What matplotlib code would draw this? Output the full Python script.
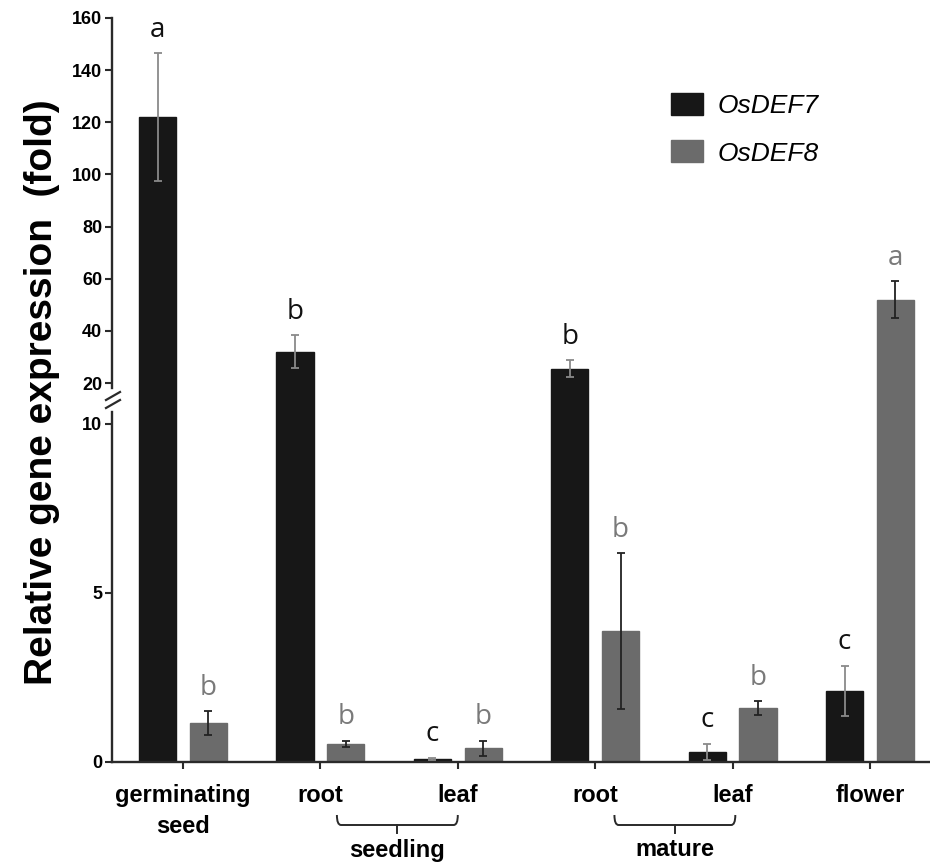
import numpy as np
import matplotlib
matplotlib.use('Agg')
import matplotlib.pyplot as plt
from matplotlib.path import Path
from matplotlib.patches import PathPatch
import matplotlib.transforms as mtransforms

plt.rcParams['font.family'] = 'Liberation Sans'

# data
groups = ['germinating\nseed', 'root', 'leaf', 'root', 'leaf', 'flower']
def7 = [122, 32, 0.1, 25.5, 0.3, 2.1]
def7_err = [24.5, 6.3, 0.03, 3.2, 0.23, 0.75]
def8 = [1.15, 0.53, 0.41, 3.88, 1.6, 52]
def8_err = [0.35, 0.1, 0.22, 2.3, 0.2, 7]
def7_letters = ['a', 'b', 'c', 'b', 'c', 'c']
def8_letters = ['b', 'b', 'b', 'b', 'b', 'a']

W, H = 930, 865
fig = plt.figure(figsize=(W / 100, H / 100), dpi=100)

def px_rect(left, top, right, bottom):
    return [left / W, 1 - bottom / H, (right - left) / W, (bottom - top) / H]

# both panels meet at y=400 px so the bars run through the break
ax_lo = fig.add_axes(px_rect(112, 400, 930, 762))
ax_hi = fig.add_axes(px_rect(112, 18, 930, 400))

x = np.arange(len(groups))
off = 0.185
bw = 0.27
c7 = '#171717'
c8 = '#6b6b6b'

for ax in (ax_lo, ax_hi):
    ax.bar(x - off, def7, bw, color=c7, edgecolor=c7, zorder=2)
    ax.bar(x + off, def8, bw, color=c8, edgecolor=c8, zorder=2)
    ax.errorbar(x - off, def7, yerr=def7_err, fmt='none', ecolor='#8a8a8a',
                elinewidth=1.3, capsize=3, capthick=1.3, zorder=3)
    ax.errorbar(x + off, def8, yerr=def8_err, fmt='none', ecolor='#222222',
                elinewidth=1.3, capsize=3, capthick=1.3, zorder=3)
    ax.set_xlim(-0.517, 5.437)
    ax.spines['right'].set_visible(False)
    ax.spines['top'].set_visible(False)
    for s in ax.spines.values():
        s.set_linewidth(1.7)
        s.set_color('#2a2a2a')
    ax.tick_params(axis='y', length=5, width=1.5, color='#2a2a2a', pad=2,
                   labelsize=13)
    ax.patch.set_alpha(0)

ax_lo.set_ylim(0, 10.71)
ax_lo.spines['left'].set_bounds(0, 10.36)
ax_lo.set_yticks([0, 5, 10])
ax_lo.set_yticklabels(['0', '5', '10'], fontweight='bold', fontsize=13)
ax_lo.set_xticks(x)
ax_lo.set_xticklabels(groups, fontweight='bold', fontsize=17, linespacing=1.45)
ax_lo.tick_params(axis='x', length=5, width=1.5, color='#2a2a2a', pad=11)

ax_hi.set_ylim(13.48, 160)
ax_hi.spines['left'].set_bounds(18.1, 160)
ax_hi.set_yticks(np.arange(20, 161, 20))
ax_hi.set_yticklabels([str(v) for v in range(20, 161, 20)], fontweight='bold', fontsize=13)
ax_hi.spines['bottom'].set_visible(False)
ax_hi.set_xticks([])

# significance letters
for i in range(len(groups)):
    for val, err, lab, xx, col in ((def7[i], def7_err[i], def7_letters[i], x[i] - off, '#111111'),
                                   (def8[i], def8_err[i], def8_letters[i], x[i] + off, '#7a7a7a')):
        top = val + err
        ax = ax_hi if top > 10 else ax_lo
        ax.annotate(lab, (xx, top), xytext=(0, 17), textcoords='offset points',
                    ha='center', va='center', fontsize=20, color=col,
                    family='Open Sans', annotation_clip=False)

# axis break marks
for dy in (-4, 4):
    fig.add_artist(plt.Line2D([106 / W, 120 / W], [1 - (404 + dy) / H, 1 - (396 + dy) / H],
                              color='#2a2a2a', lw=1.6))

fig.text(42 / W, 1 - 392 / H, 'Relative gene expression  (fold)', rotation=90,
         ha='center', va='center', fontsize=28, fontweight='bold')

# braces under seedling / mature
trans = mtransforms.blended_transform_factory(ax_lo.transData, ax_lo.transAxes)
hpx = 362.0
def brace(x0, x1, label):
    xm = (x0 + x1) / 2
    y0, y1, y2 = -53 / hpx, -63 / hpx, -71 / hpx
    r = 0.03
    verts = [(x0, y0), (x0, y1), (x0 + r, y1), (x1 - r, y1), (x1, y1), (x1, y0)]
    codes = [Path.MOVETO, Path.CURVE3, Path.CURVE3, Path.LINETO, Path.CURVE3, Path.CURVE3]
    ax_lo.add_patch(PathPatch(Path(verts, codes), fill=False, lw=1.4, ec='#2a2a2a',
                              transform=trans, clip_on=False))
    ax_lo.plot([xm, xm], [y1, y2], color='#2a2a2a', lw=1.4, transform=trans, clip_on=False)
    ax_lo.text(xm, -88 / hpx, label, transform=trans, ha='center', va='center',
               fontsize=17, fontweight='bold')

brace(1.12, 2.0, 'seedling')
brace(3.14, 4.02, 'mature')

leg = ax_hi.legend(['OsDEF7', 'OsDEF8'], loc='upper left',
                   bbox_to_anchor=(671 / W, 1 - 93 / H), bbox_transform=fig.transFigure,
                   frameon=False, fontsize=19, handlelength=1.2, handleheight=0.9,
                   handletextpad=0.55, labelspacing=0.85, borderpad=0, borderaxespad=0)
for t in leg.get_texts():
    t.set_fontstyle('italic')

fig.savefig('out.png', dpi=100)
